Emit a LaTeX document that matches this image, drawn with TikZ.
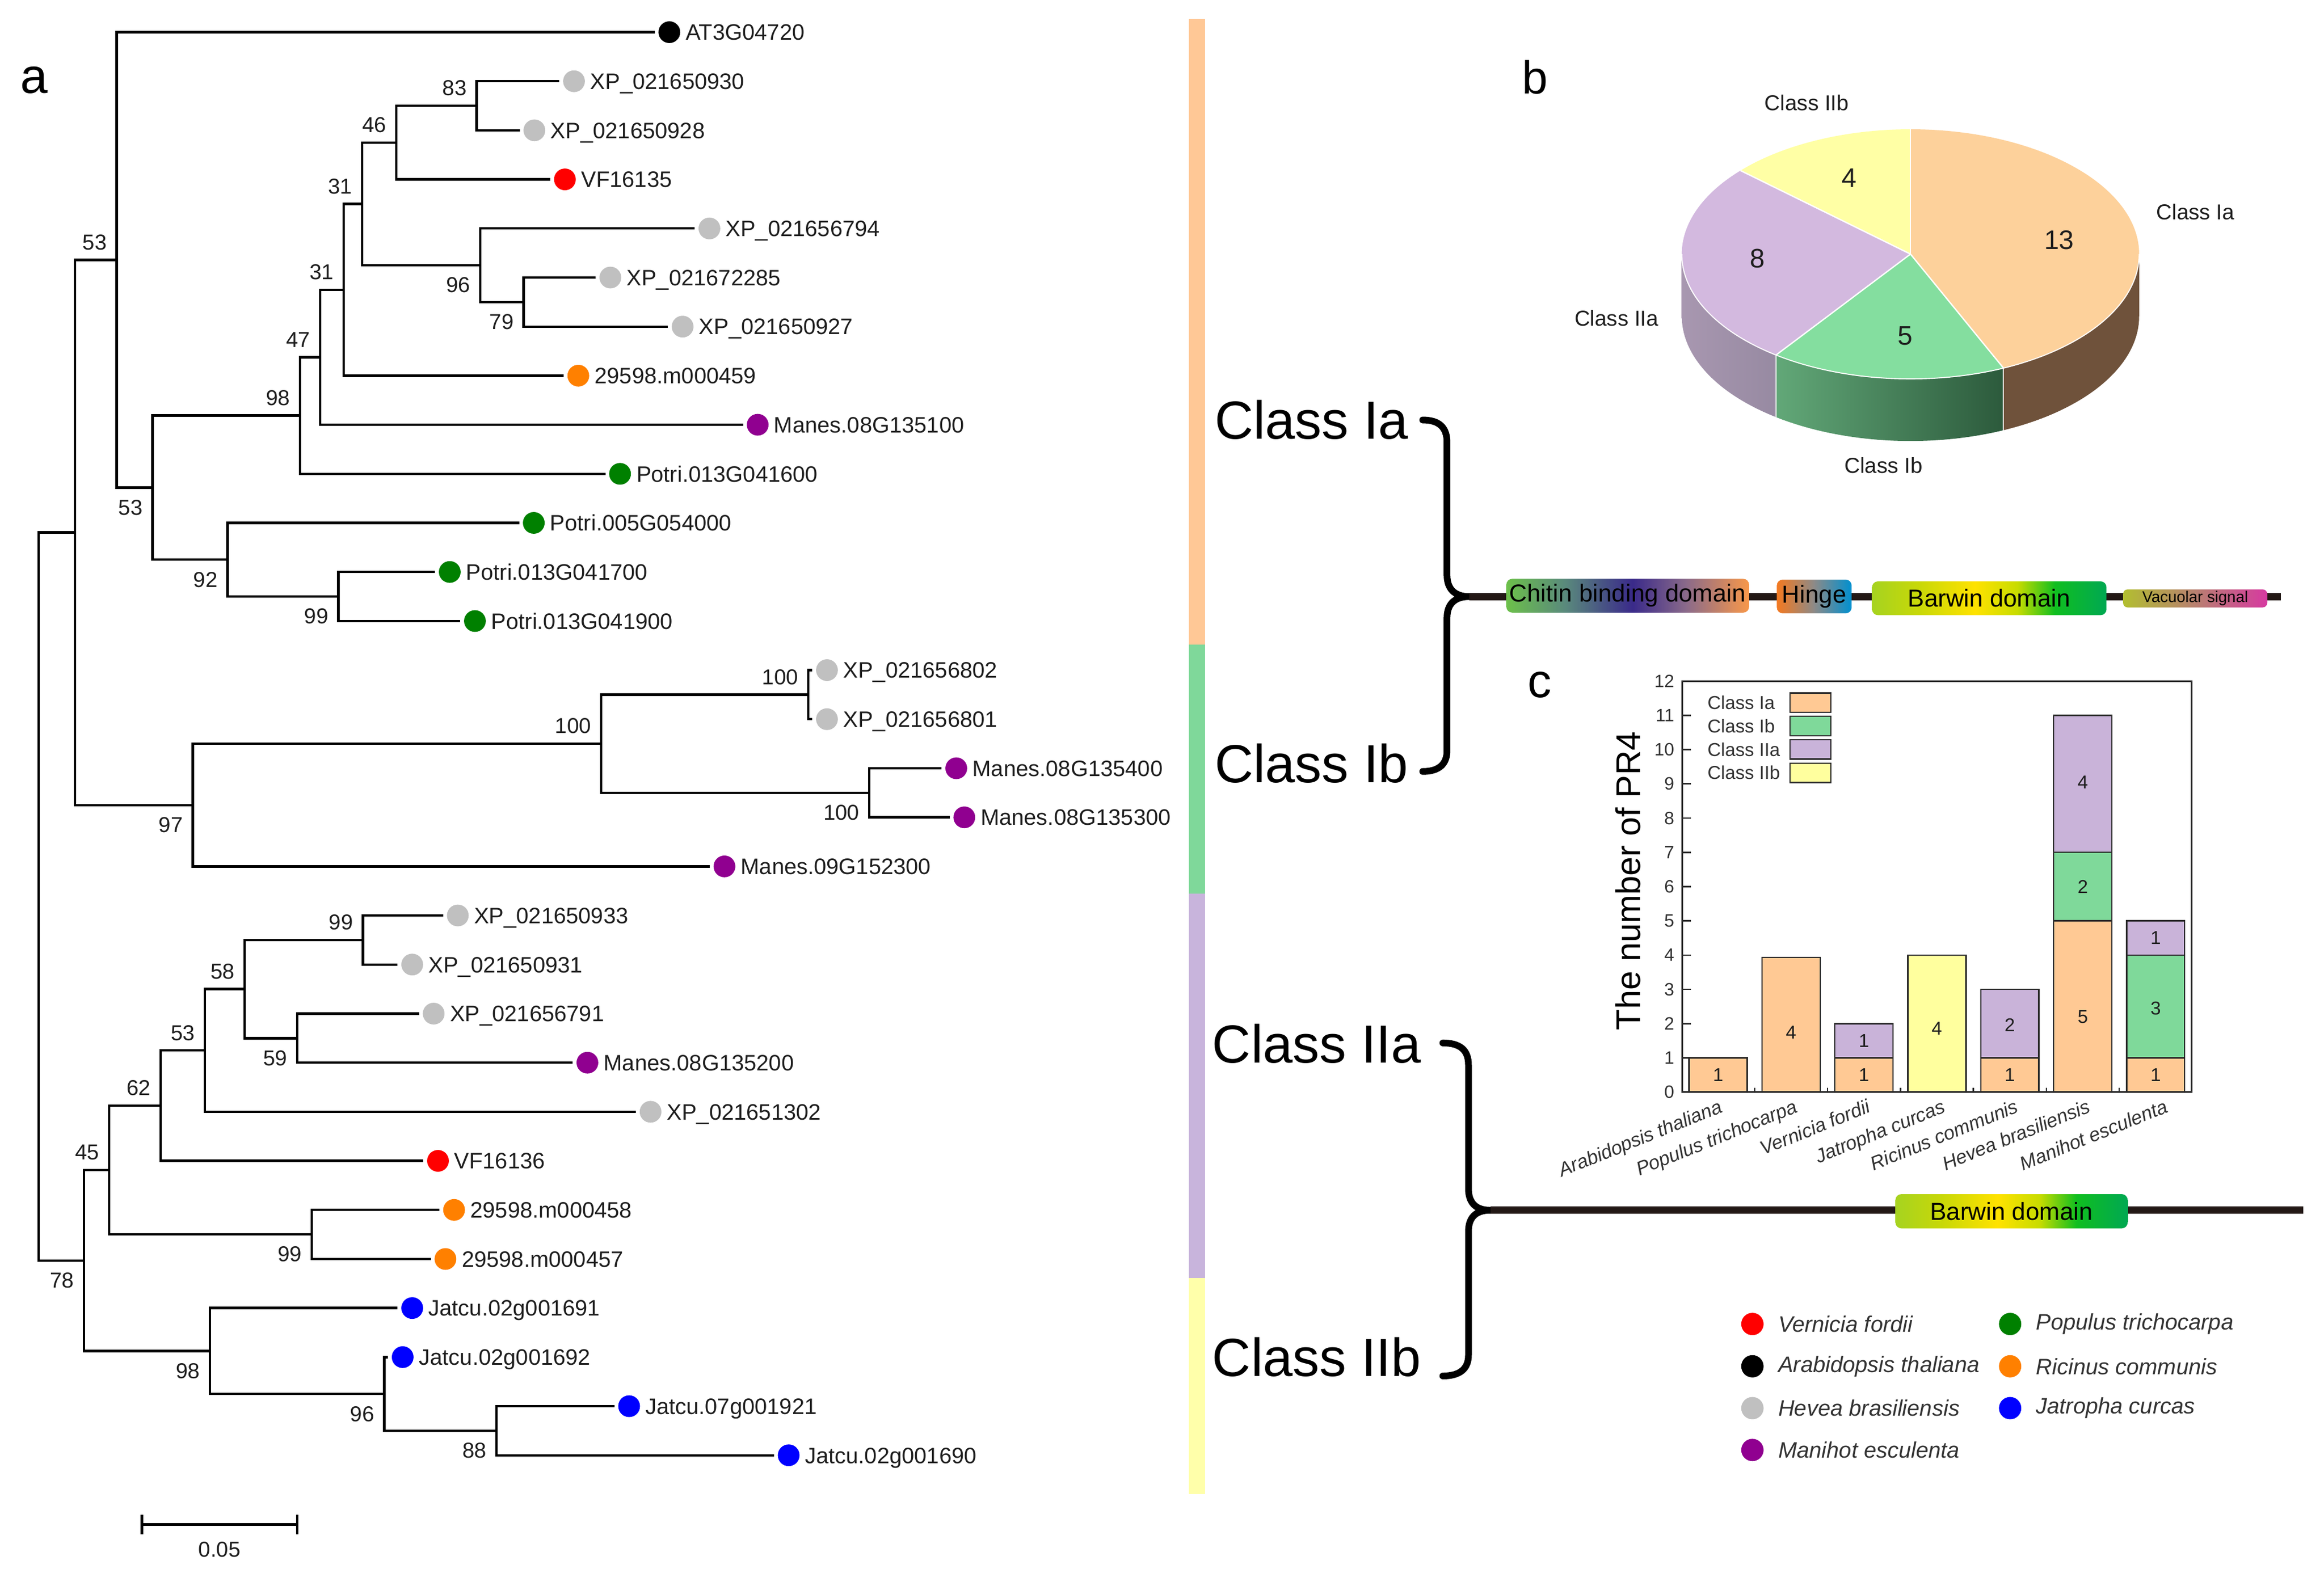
\documentclass[tikz,border=0pt]{standalone}
\usepackage{fontspec}
\setmainfont{Liberation Sans}
\newcommand\fsz[1]{\fontsize{#1}{#1}\selectfont}
% species colours
\definecolor{cVf}{HTML}{FF0000}
\definecolor{cAt}{HTML}{000000}
\definecolor{cHb}{HTML}{C0C0C0}
\definecolor{cMe}{HTML}{900090}
\definecolor{cPt}{HTML}{008000}
\definecolor{cRc}{HTML}{FF8000}
\definecolor{cJc}{HTML}{0000FF}
% class colours
\definecolor{cIa}{HTML}{FFC994}
\definecolor{cIb}{HTML}{7FD99A}
\definecolor{cIIa}{HTML}{C9B3D9}
\definecolor{cIIb}{HTML}{FFFF9E}
\definecolor{barIa}{HTML}{FFC896}
\definecolor{barIb}{HTML}{7FD89A}
\definecolor{barIIa}{HTML}{C8B4DC}
\definecolor{barIIb}{HTML}{FFFFAA}
\definecolor{pIa}{HTML}{FDD19B}
\definecolor{pIb}{HTML}{84DE9F}
\definecolor{pIIa}{HTML}{D3B9DF}
\definecolor{pIIb}{HTML}{FFFFA5}
\definecolor{sIa}{HTML}{6F523B}
\definecolor{sIbL}{HTML}{62A878}
\definecolor{sIbR}{HTML}{2C5A3C}
\definecolor{sIIaL}{HTML}{A897B0}
\definecolor{sIIaR}{HTML}{978AA2}
\definecolor{dline}{HTML}{231815}
\definecolor{txt}{HTML}{1E1E1E}
\definecolor{gtxt}{HTML}{333333}
% domain shading colours
\definecolor{chA}{HTML}{6CC04A}
\definecolor{chB}{HTML}{5A8A7C}
\definecolor{chC}{HTML}{3A2A8A}
\definecolor{chD}{HTML}{8A6A8A}
\definecolor{chE}{HTML}{F8984A}
\definecolor{hgA}{HTML}{F47920}
\definecolor{hgB}{HTML}{8C8A88}
\definecolor{hgC}{HTML}{0090D0}
\definecolor{bwA}{HTML}{A6D320}
\definecolor{bwB}{HTML}{C8D808}
\definecolor{bwC}{HTML}{FFE200}
\definecolor{bwD}{HTML}{C8DC00}
\definecolor{bwE}{HTML}{10BE20}
\definecolor{bwF}{HTML}{00A852}
\definecolor{vsA}{HTML}{B2BE30}
\definecolor{vsB}{HTML}{B88070}
\definecolor{vsC}{HTML}{D63AA0}
\pgfdeclarehorizontalshading{chitinsh}{100bp}{color(0bp)=(chA); color(25bp)=(chA); color(37bp)=(chB); color(51bp)=(chC); color(62bp)=(chD); color(75bp)=(chE); color(100bp)=(chE)}
\pgfdeclarehorizontalshading{hingesh}{100bp}{color(0bp)=(hgA); color(25bp)=(hgA); color(50bp)=(hgB); color(75bp)=(hgC); color(100bp)=(hgC)}
\pgfdeclarehorizontalshading{barwinsh}{100bp}{color(0bp)=(bwA); color(25bp)=(bwA); color(35bp)=(bwB); color(47bp)=(bwC); color(56bp)=(bwD); color(64bp)=(bwE); color(75bp)=(bwF); color(100bp)=(bwF)}
\pgfdeclarehorizontalshading{vacsh}{100bp}{color(0bp)=(vsA); color(25bp)=(vsA); color(50bp)=(vsB); color(75bp)=(vsC); color(100bp)=(vsC)}
\newcommand\leaf[5]{\node[dot,fill=#4] (#1) at (#2,#3) {}; \node[lf] (#1t) at (#1.east) {#5};}
\newcommand\bsA[2]{\node[bsa] at (#1) {#2};}
\newcommand\bsB[2]{\node[bsb] at (#1) {#2};}
\begin{document}
\begin{tikzpicture}[x=1pt,y=-1pt,
  br/.style={line width=1.65pt, black},
  dot/.style={circle, inner sep=0pt, minimum size=14.6pt, outer sep=2.5pt},
  lf/.style={anchor=west, inner sep=1pt, font=\fsz{15}, text=txt, text height=10.7pt, text depth=0pt},
  bsa/.style={anchor=south east, inner sep=0pt, xshift=-6.5pt, yshift=6.5pt, font=\fsz{14.5}, text=txt},
  bsb/.style={anchor=north east, inner sep=0pt, xshift=-6.5pt, yshift=-8pt, font=\fsz{14.5}, text=txt},
  cls/.style={inner sep=0pt, font=\fsz{36}, text=black},
  bracestyle/.style={line width=4.5pt, line cap=round, line join=round, black},
  domline/.style={line width=5pt, dline},
  dombox/.style={rounded corners=4pt, inner sep=0pt, text=black},
  piel/.style={font=\fsz{14.5}, text=txt},
  pienum/.style={font=\fsz{18}, text=txt},
  barst/.style={draw=gtxt!80!black, line width=0.9pt},
  sdot/.style={circle, inner sep=0pt, minimum size=15pt},
  stxt/.style={anchor=west, inner sep=1.5pt, font=\fsz{15}\itshape, text=gtxt},
  xl/.style={anchor=north east, rotate=22, inner sep=0pt, font=\fsz{13}\itshape, text=gtxt},
  panel/.style={font=\fsz{33}, text=black}
]
\useasboundingbox (0,0) rectangle (1560,1053.15);
\fill[white] (0,0) rectangle (1560,1053.15);

% ================= panel a: tree =================
\node[panel] (pa) at (23,54) {a};
\coordinate (root) at (25.9,601.9);
\coordinate (n53t) at (50.3,357.5);
\coordinate (nA) at (78.3,174.5);
\coordinate (n53b) at (102.4,327.4);
\coordinate (n98) at (201.3,279.0);
\coordinate (n47) at (214.9,239.9);
\coordinate (n31b) at (230.7,194.6);
\coordinate (n31a) at (243.0,136.9);
\coordinate (n46) at (266.0,95.7);
\coordinate (n83) at (319.9,71.0);
\coordinate (n96) at (322.4,178.1);
\coordinate (n79) at (351.5,202.8);
\coordinate (n92) at (152.7,375.8);
\coordinate (n99p) at (227.1,400.5);
\coordinate (n97) at (129.4,540.6);
\coordinate (n100) at (403.6,499.4);
\coordinate (n100s) at (542.5,466.4);
\coordinate (n100m) at (583.6,532.3);
\coordinate (n78) at (56.4,846.4);
\coordinate (n45) at (73.3,785.6);
\coordinate (n62) at (107.8,742.4);
\coordinate (n53c) at (137.6,705.3);
\coordinate (n58) at (164.2,664.1);
\coordinate (n99q) at (243.7,631.2);
\coordinate (n59) at (199.5,697.1);
\coordinate (n99r) at (209.2,828.9);
\coordinate (n98b) at (140.9,907.1);
\coordinate (n96b) at (258.0,936.0);
\coordinate (n88) at (333.2,960.7);

\leaf{l0}{449.3}{21.6}{cAt}{AT3G04720}
\leaf{l1}{385.3}{54.55}{cHb}{XP\_021650930}
\leaf{l2}{358.7}{87.5}{cHb}{XP\_021650928}
\leaf{l3}{379.2}{120.45}{cVf}{VF16135}
\leaf{l4}{476.2}{153.4}{cHb}{XP\_021656794}
\leaf{l5}{409.7}{186.35}{cHb}{XP\_021672285}
\leaf{l6}{458.2}{219.3}{cHb}{XP\_021650927}
\leaf{l7}{388.2}{252.25}{cRc}{29598.m000459}
\leaf{l8}{508.6}{285.2}{cMe}{Manes.08G135100}
\leaf{l9}{416.2}{318.15}{cPt}{Potri.013G041600}
\leaf{l10}{358.3}{351.1}{cPt}{Potri.005G054000}
\leaf{l11}{301.9}{384.05}{cPt}{Potri.013G041700}
\leaf{l12}{318.8}{417.0}{cPt}{Potri.013G041900}
\leaf{l13}{555.1}{449.95}{cHb}{XP\_021656802}
\leaf{l14}{555.1}{482.9}{cHb}{XP\_021656801}
\leaf{l15}{641.9}{515.85}{cMe}{Manes.08G135400}
\leaf{l16}{647.3}{548.8}{cMe}{Manes.08G135300}
\leaf{l17}{486.3}{581.75}{cMe}{Manes.09G152300}
\leaf{l18}{307.3}{614.7}{cHb}{XP\_021650933}
\leaf{l19}{276.7}{647.65}{cHb}{XP\_021650931}
\leaf{l20}{291.1}{680.6}{cHb}{XP\_021656791}
\leaf{l21}{394.3}{713.55}{cMe}{Manes.08G135200}
\leaf{l22}{436.7}{746.5}{cHb}{XP\_021651302}
\leaf{l23}{294.0}{779.45}{cVf}{VF16136}
\leaf{l24}{304.8}{812.4}{cRc}{29598.m000458}
\leaf{l25}{299.0}{845.35}{cRc}{29598.m000457}
\leaf{l26}{276.7}{878.3}{cJc}{Jatcu.02g001691}
\leaf{l27}{270.3}{911.25}{cJc}{Jatcu.02g001692}
\leaf{l28}{422.3}{944.2}{cJc}{Jatcu.07g001921}
\leaf{l29}{529.4}{977.15}{cJc}{Jatcu.02g001690}

\draw[br] (root) |- (n53t); \draw[br] (root) |- (n78);
\draw[br] (n53t) |- (nA); \draw[br] (n53t) |- (n97);
\draw[br] (nA) |- (l0); \draw[br] (nA) |- (n53b);
\draw[br] (n53b) |- (n98); \draw[br] (n53b) |- (n92);
\draw[br] (n98) |- (n47); \draw[br] (n98) |- (l9);
\draw[br] (n47) |- (n31b); \draw[br] (n47) |- (l8);
\draw[br] (n31b) |- (n31a); \draw[br] (n31b) |- (l7);
\draw[br] (n31a) |- (n46); \draw[br] (n31a) |- (n96);
\draw[br] (n46) |- (n83); \draw[br] (n46) |- (l3);
\draw[br] (n83) |- (l1); \draw[br] (n83) |- (l2);
\draw[br] (n96) |- (l4); \draw[br] (n96) |- (n79);
\draw[br] (n79) |- (l5); \draw[br] (n79) |- (l6);
\draw[br] (n92) |- (l10); \draw[br] (n92) |- (n99p);
\draw[br] (n99p) |- (l11); \draw[br] (n99p) |- (l12);
\draw[br] (n97) |- (n100); \draw[br] (n97) |- (l17);
\draw[br] (n100) |- (n100s); \draw[br] (n100) |- (n100m);
\draw[br] (n100s) |- (l13); \draw[br] (n100s) |- (l14);
\draw[br] (n100m) |- (l15); \draw[br] (n100m) |- (l16);
\draw[br] (n78) |- (n45); \draw[br] (n78) |- (n98b);
\draw[br] (n45) |- (n62); \draw[br] (n45) |- (n99r);
\draw[br] (n62) |- (n53c); \draw[br] (n62) |- (l23);
\draw[br] (n53c) |- (n58); \draw[br] (n53c) |- (l22);
\draw[br] (n58) |- (n99q); \draw[br] (n58) |- (n59);
\draw[br] (n99q) |- (l18); \draw[br] (n99q) |- (l19);
\draw[br] (n59) |- (l20); \draw[br] (n59) |- (l21);
\draw[br] (n99r) |- (l24); \draw[br] (n99r) |- (l25);
\draw[br] (n98b) |- (l26); \draw[br] (n98b) |- (n96b);
\draw[br] (n96b) |- (l27); \draw[br] (n96b) |- (n88);
\draw[br] (n88) |- (l28); \draw[br] (n88) |- (l29);

% bootstrap values
\bsA{n83}{83} \bsA{n46}{46} \bsA{n31a}{31} \bsA{n31b}{31} \bsA{n47}{47}
\bsA{n98}{98} \bsA{nA}{53} \bsA{n100}{100} \bsA{n100s}{100} \bsA{n99q}{99}
\bsA{n58}{58} \bsA{n53c}{53} \bsA{n62}{62} \bsA{n45}{45}
\bsB{n96}{96} \bsB{n79}{79} \bsB{n53b}{53} \bsB{n92}{92} \bsB{n99p}{99}
\bsB{n100m}{100} \bsB{n97}{97} \bsB{n59}{59} \bsB{n99r}{99} \bsB{n78}{78}
\bsB{n98b}{98} \bsB{n96b}{96} \bsB{n88}{88}

% scale bar
\coordinate (sb1) at (95.2,1023.6);
\coordinate (sb2) at (199.5,1023.6);
\draw[br] (sb1) -- (sb2);
\draw[br] ([yshift=6.6pt]sb1) -- ([yshift=-6.6pt]sb1);
\draw[br] ([yshift=6.6pt]sb2) -- ([yshift=-6.6pt]sb2);
\node[font=\fsz{14.5}, text=txt] (sbl) at (147.4,1040.4) {0.05};

% ================= class colour bar =================
\fill[barIa] (798,12.9) rectangle (809,433);
\fill[barIb] (798,433) rectangle (809,600);
\fill[barIIa] (798,600) rectangle (809,858);
\fill[barIIb] (798,858) rectangle (809,1003.2);

% ================= class labels and braces =================
\node[cls, anchor=base west] (cIa) at (815.2,294.7) {Class Ia};
\node[cls, anchor=base west] (cIb) at (815.2,525.5) {Class Ib};
\node[cls, anchor=base west] (cIIa) at (813.6,713.6) {Class IIa};
\node[cls, anchor=base west] (cIIb) at (813.6,923.9) {Class IIb};

\coordinate (tipI) at (986.3,400.6);
\coordinate (endI) at (1531.2,400.6);
\coordinate (tipII) at (1000.4,812.6);
\coordinate (endII) at (1546.2,812.6);
\draw[bracestyle] (955,282) .. controls (966,282) and (971.3,287) .. (971.3,297) -- (971.3,386) .. controls (971.3,395) and (976,400.6) .. (tipI) .. controls (976,400.6) and (971.3,406) .. (971.3,415) -- (971.3,504) .. controls (971.3,513) and (966,518) .. (955,518);
\draw[bracestyle] (968.5,700.3) .. controls (980,700.3) and (985.7,705) .. (985.7,715) -- (985.7,798) .. controls (985.7,807) and (990,812.6) .. (tipII) .. controls (990,812.6) and (985.7,818) .. (985.7,827) -- (985.7,910) .. controls (985.7,919) and (980,923.9) .. (968.5,923.9);

% domain architecture
\draw[domline] (tipI) -- (endI);
\node[dombox, shading=chitinsh, minimum width=163pt, minimum height=22.7pt, font=\fsz{16.5}] (chitin) at (1092.6,400) {Chitin binding domain};
\node[dombox, shading=hingesh, minimum width=50.2pt, minimum height=22.7pt, font=\fsz{16.5}] (hinge) at (1217.8,400.5) {Hinge};
\node[dombox, shading=barwinsh, minimum width=157.4pt, minimum height=22.7pt, font=\fsz{16.5}] (barwin) at (1335.3,401.7) {Barwin domain};
\node[dombox, rounded corners=3pt, shading=vacsh, minimum width=96.7pt, minimum height=12.1pt, font=\fsz{10.5}] (vac) at (1473.5,401.8) {Vacuolar signal};

\draw[domline] (tipII) -- (endII);
\node[dombox, shading=barwinsh, minimum width=155.9pt, minimum height=23pt, font=\fsz{16.5}] (barwin2) at (1350.25,813.3) {Barwin domain};

% ================= panel b: pie =================
\node[panel, font=\fsz{31}] (pb) at (1030.2,51.8) {b};
\begin{scope}[shift={(1282.4,170.6)}, y={(0pt,1pt)}]
  \shade[left color=sIIaL, right color=sIIaR] (-180:153.5 and 83.8) arc[start angle=-180, end angle=-126, x radius=153.5, y radius=83.8] -- ++(0,-41.7) arc[start angle=-126, end angle=-180, x radius=153.5, y radius=83.8] -- cycle;
  \shade[left color=sIbL, right color=sIbR] (-126:153.5 and 83.8) arc[start angle=-126, end angle=-66, x radius=153.5, y radius=83.8] -- ++(0,-41.7) arc[start angle=-66, end angle=-126, x radius=153.5, y radius=83.8] -- cycle;
  \fill[sIa] (-66:153.5 and 83.8) arc[start angle=-66, end angle=0, x radius=153.5, y radius=83.8] -- ++(0,-41.7) arc[start angle=0, end angle=-66, x radius=153.5, y radius=83.8] -- cycle;
  \draw[white!85!gray, line width=0.8pt] (-66:153.5 and 83.8) -- ++(0,-41.7);
  \draw[white!85!gray, line width=0.8pt] (-126:153.5 and 83.8) -- ++(0,-41.7);
  \fill[pIa] (0,0) -- (90:153.5 and 83.8) arc[start angle=90, end angle=-66, x radius=153.5, y radius=83.8] -- cycle;
  \fill[pIb] (0,0) -- (-66:153.5 and 83.8) arc[start angle=-66, end angle=-126, x radius=153.5, y radius=83.8] -- cycle;
  \fill[pIIa] (0,0) -- (-126:153.5 and 83.8) arc[start angle=-126, end angle=-222, x radius=153.5, y radius=83.8] -- cycle;
  \fill[pIIb] (0,0) -- (138:153.5 and 83.8) arc[start angle=138, end angle=90, x radius=153.5, y radius=83.8] -- cycle;
  \draw[white, line width=0.9pt] (0,0) -- (90:153.5 and 83.8);
  \draw[white, line width=0.9pt] (0,0) -- (-66:153.5 and 83.8);
  \draw[white, line width=0.9pt] (0,0) -- (-126:153.5 and 83.8);
  \draw[white, line width=0.9pt] (0,0) -- (138:153.5 and 83.8);
  \draw[white, line width=0.7pt] (0:153.5 and 83.8) arc[start angle=0, end angle=-180, x radius=153.5, y radius=83.8];
\end{scope}
\node[piel] (plIIb) at (1212.8,69) {Class IIb};
\node[piel] (plIa) at (1473.7,142.3) {Class Ia};
\node[piel] (plIIa) at (1085.1,213.7) {Class IIa};
\node[piel] (plIb) at (1264.3,312.6) {Class Ib};
\node[pienum] (pn4) at (1241.3,119.3) {4};
\node[pienum] (pn13) at (1382.2,161) {13};
\node[pienum] (pn8) at (1179.8,173.4) {8};
\node[pienum] (pn5) at (1278.9,225.7) {5};

% ================= panel c: bar chart =================
\node[panel, font=\fsz{32}] (pc) at (1033.6,459.7) {c};
\begin{scope}[shift={(1129.3,733.3)}, y={(0pt,23pt)}]
  \filldraw[barst, fill=cIa] (4.5,0) rectangle (43.5,1);
  \filldraw[barst, fill=cIa] (53.45,0) rectangle (92.45,3.93);
  \filldraw[barst, fill=cIa] (102.4,0) rectangle (141.4,1);
  \filldraw[barst, fill=cIIa] (102.4,1) rectangle (141.4,2);
  \filldraw[barst, fill=cIIb] (151.35,0) rectangle (190.35,4);
  \filldraw[barst, fill=cIa] (200.3,0) rectangle (239.3,1);
  \filldraw[barst, fill=cIIa] (200.3,1) rectangle (239.3,3);
  \filldraw[barst, fill=cIa] (249.25,0) rectangle (288.25,5);
  \filldraw[barst, fill=cIb] (249.25,5) rectangle (288.25,7);
  \filldraw[barst, fill=cIIa] (249.25,7) rectangle (288.25,11);
  \filldraw[barst, fill=cIa] (298.2,0) rectangle (337.2,1);
  \filldraw[barst, fill=cIb] (298.2,1) rectangle (337.2,4);
  \filldraw[barst, fill=cIIa] (298.2,4) rectangle (337.2,5);
  \begin{scope}[font=\fsz{12.5}, text=txt]
    \node at (24,0.5) {1};
    \node at (72.95,1.75) {4};
    \node at (121.9,0.5) {1};
    \node at (121.9,1.5) {1};
    \node at (170.85,1.85) {4};
    \node at (219.8,0.5) {1};
    \node at (219.8,1.95) {2};
    \node at (268.75,2.2) {5};
    \node at (268.75,6) {2};
    \node at (268.75,9.05) {4};
    \node at (317.7,0.5) {1};
    \node at (317.7,2.45) {3};
    \node at (317.7,4.5) {1};
  \end{scope}
  \draw[line width=1.1pt, black!85] (0,0) rectangle (341.7,12);
  \foreach \v in {0,...,12} {
    \draw[line width=1pt, black!85] (0,\v) -- (5.6,\v);
    \node[anchor=east, inner sep=0pt, font=\fsz{12}, text=gtxt] at (-5.3,\v) {\v};
  }
  \foreach \xx in {48.5,97.4,146.4,195.3,244.3,293.2} {
    \draw[line width=0.9pt, black!85] (\xx,0) -- (\xx,0.12);
  }
\end{scope}
\node[rotate=90, font=\fsz{23}, text=black] (ytitle) at (1092.8,591.4) {The number of PR4};
% chart legend
\begin{scope}[font=\fsz{12.5}, text=gtxt]
  \node[anchor=west, inner sep=0pt] (lgIa) at (1146,471.8) {Class Ia};
  \node[anchor=west, inner sep=0pt] (lgIb) at (1146,487.5) {Class Ib};
  \node[anchor=west, inner sep=0pt] (lgIIa) at (1146,503.2) {Class IIa};
  \node[anchor=west, inner sep=0pt] (lgIIb) at (1146,518.9) {Class IIb};
\end{scope}
\filldraw[barst, fill=cIa] (1201.5,465.3) rectangle (1229,478.3);
\filldraw[barst, fill=cIb] (1201.5,481) rectangle (1229,494);
\filldraw[barst, fill=cIIa] (1201.5,496.7) rectangle (1229,509.7);
\filldraw[barst, fill=cIIb] (1201.5,512.4) rectangle (1229,525.4);
% x labels
\node[xl] (x1) at (1153.5,737.5) {Arabidopsis thaliana};
\node[xl] (x2) at (1203.8,737.5) {Populus trichocarpa};
\node[xl] (x3) at (1252.8,737.5) {Vernicia fordii};
\node[xl] (x4) at (1303.2,737.5) {Jatropha curcas};
\node[xl] (x5) at (1352.2,737.5) {Ricinus communis};
\node[xl] (x6) at (1400.6,737.5) {Hevea brasiliensis};
\node[xl] (x7) at (1452.5,737.5) {Manihot esculenta};

% ================= species legend =================
\node[sdot, fill=cVf] (sVf) at (1176.3,889) {};
\node[stxt] at ([xshift=8pt]sVf.east) {Vernicia fordii};
\node[sdot, fill=cAt] (sAt) at (1176.3,917.4) {};
\node[stxt] at ([xshift=8pt]sAt.east) {Arabidopsis thaliana};
\node[sdot, fill=cHb] (sHb) at (1176.3,945.5) {};
\node[stxt] at ([xshift=8pt]sHb.east) {Hevea brasiliensis};
\node[sdot, fill=cMe] (sMe) at (1176.3,973.6) {};
\node[stxt] at ([xshift=8pt]sMe.east) {Manihot esculenta};
\node[sdot, fill=cPt] (sPt) at (1349.3,889) {};
\node[stxt] at ([xshift=8pt]sPt.east) {Populus trichocarpa};
\node[sdot, fill=cRc] (sRc) at (1349.3,917.4) {};
\node[stxt] at ([xshift=8pt]sRc.east) {Ricinus communis};
\node[sdot, fill=cJc] (sJc) at (1349.3,945.5) {};
\node[stxt] at ([xshift=8pt]sJc.east) {Jatropha curcas};
\end{tikzpicture}
\end{document}
